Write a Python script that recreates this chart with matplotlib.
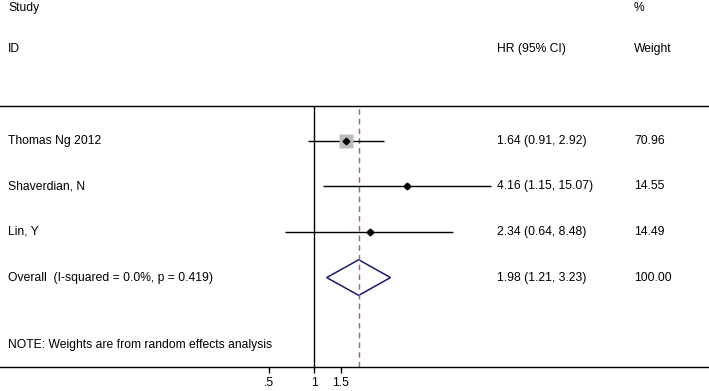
import numpy as np
import matplotlib
matplotlib.use("Agg")
import matplotlib.pyplot as plt

plt.rcParams["font.family"] = ["Liberation Sans", "DejaVu Sans"]
plt.rcParams["font.size"] = 8.7

# study-level results
studies = ["Thomas Ng 2012", "Shaverdian, N", "Lin, Y"]
hr = [1.64, 4.16, 2.34]
ci_low = [0.91, 1.15, 0.64]
ci_high = [2.92, 15.07, 8.48]
weights = [70.96, 14.55, 14.49]

overall_label = "Overall  (I-squared = 0.0%, p = 0.419)"
overall_hr = 1.98
overall_low = 1.21
overall_high = 3.23
overall_weight = 100.00

note = "NOTE: Weights are from random effects analysis"
tick_vals = [0.5, 1, 1.5]
tick_labels = [".5", "1", "1.5"]

W, H = 709, 391
fig = plt.figure(figsize=(W / 100, H / 100), dpi=100)
# axes spans full width; top line at y=106px, axis line at y=367px
ax = fig.add_axes([0, (H - 367) / H, 1, (367 - 106) / H])

# log scale, ~65 px per ln unit, x=1 at 314 px
px_per = 65.0
x1 = 314.3
ax.set_xscale("log")
ax.set_xlim(np.exp(-x1 / px_per), np.exp((W - x1) / px_per))
ax.set_ylim(4.96, -0.76)

for s in ["left", "right"]:
    ax.spines[s].set_visible(False)
ax.spines["top"].set_linewidth(1.0)
ax.spines["bottom"].set_linewidth(1.0)
ax.set_yticks([])
ax.xaxis.set_minor_locator(matplotlib.ticker.NullLocator())
ax.set_xticks(tick_vals)
ax.set_xticklabels(tick_labels)
ax.tick_params(axis="x", direction="out", length=4.5, width=1, pad=3)

# null line and overall line
ax.axvline(1, color="black", lw=1.0)
ax.axvline(overall_hr, color="#a8606a", lw=1.0, ls=(0, (4, 3)))

trans = ax.get_yaxis_transform()
max_side = 9.6  # marker size (pt) of the largest weight box
for i, (name, h, lo, hi, w) in enumerate(zip(studies, hr, ci_low, ci_high, weights)):
    ax.plot([lo, hi], [i, i], color="black", lw=1.0, solid_capstyle="butt")
    ax.plot(h, i, marker="s", ms=max_side * np.sqrt(w / max(weights)),
            color="#bdbdbd", mec="none", zorder=3)
    ax.plot(h, i, marker="D", ms=3.4, color="black", zorder=4)
    ax.text(8 / W, i, name, transform=trans, va="center", ha="left")
    ax.text(497 / W, i, f"{h:.2f} ({lo:.2f}, {hi:.2f})", transform=trans,
            va="center", ha="left")
    ax.text(634 / W, i, f"{w:.2f}", transform=trans, va="center", ha="left")

# pooled diamond
yo = len(studies)
dh = 0.39
ax.fill([overall_low, overall_hr, overall_high, overall_hr, overall_low],
        [yo, yo - dh, yo, yo + dh, yo], fill=False, edgecolor="#1a1a6e", lw=1.1)
ax.text(8 / W, yo, overall_label, transform=trans, va="center", ha="left")
ax.text(497 / W, yo, f"{overall_hr:.2f} ({overall_low:.2f}, {overall_high:.2f})",
        transform=trans, va="center", ha="left")
ax.text(634 / W, yo, f"{overall_weight:.2f}", transform=trans, va="center", ha="left")

ax.text(8 / W, 4.48, note, transform=trans, va="center", ha="left")

# column headers above the top line
ax.text(8 / W, -2.91, "Study", transform=trans, va="center", ha="left")
ax.text(8 / W, -2.01, "ID", transform=trans, va="center", ha="left")
ax.text(497 / W, -2.01, "HR (95% CI)", transform=trans, va="center", ha="left")
ax.text(634 / W, -2.91, "%", transform=trans, va="center", ha="left")
ax.text(634 / W, -2.01, "Weight", transform=trans, va="center", ha="left")

fig.savefig("out.png", dpi=100)
